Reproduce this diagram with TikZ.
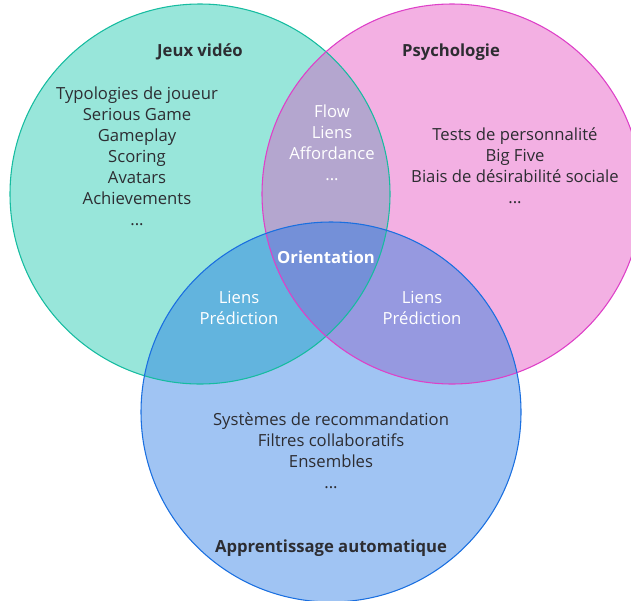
\documentclass[tikz,border=0pt]{standalone}
\usepackage{fontspec}
\setmainfont{Open Sans}
\usepackage{xcolor}
\usepackage{tikz}
\definecolor{jeuxfill}{RGB}{152, 230, 218}
\definecolor{jeuxline}{RGB}{22, 188, 160}
\definecolor{psyfill}{RGB}{243, 176, 227}
\definecolor{psyline}{RGB}{222, 64, 200}
\definecolor{mlfill}{RGB}{160, 196, 243}
\definecolor{mlline}{RGB}{26, 111, 224}
\definecolor{jeuxpsy}{RGB}{180, 166, 207}
\definecolor{jeuxml}{RGB}{98, 180, 222}
\definecolor{psyml}{RGB}{150, 153, 224}
\definecolor{centre}{RGB}{116, 144, 216}
\definecolor{texte}{RGB}{45, 45, 50}

\begin{document}
\begin{tikzpicture}[x=0.75pt, y=-0.75pt,
        titre/.style={font=\fontsize{12.5}{15.75}\selectfont\bfseries, text=texte},
        liste/.style={font=\fontsize{12.5}{15.75}\selectfont, text=texte, align=center},
        inter/.style={font=\fontsize{12.5}{15.75}\selectfont, text=white, align=center}]
    \useasboundingbox (0,0) rectangle (631,600);

    % centres des cercles
    \coordinate (cjeux) at (200,194);
    \coordinate (cpsy) at (452,194);
    \coordinate (cml) at (331,412);
    \def\rayon{142.5pt}

    % remplissages
    \fill[jeuxfill] (cjeux) circle[radius=\rayon];
    \fill[psyfill] (cpsy) circle[radius=\rayon];
    \fill[mlfill] (cml) circle[radius=\rayon];
    \begin{scope}
        \clip (cjeux) circle[radius=\rayon];
        \fill[jeuxpsy] (cpsy) circle[radius=\rayon];
        \fill[jeuxml] (cml) circle[radius=\rayon];
    \end{scope}
    \begin{scope}
        \clip (cpsy) circle[radius=\rayon];
        \fill[psyml] (cml) circle[radius=\rayon];
    \end{scope}
    \begin{scope}
        \clip (cjeux) circle[radius=\rayon];
        \clip (cpsy) circle[radius=\rayon];
        \fill[centre] (cml) circle[radius=\rayon];
    \end{scope}

    % contours
    \draw[jeuxline, line width=0.8pt] (cjeux) circle[radius=\rayon];
    \draw[psyline, line width=0.8pt] (cpsy) circle[radius=\rayon];
    \draw[mlline, line width=0.8pt] (cml) circle[radius=\rayon];

    % textes
    \node[titre] (tjeux) at (200,52) {Jeux vidéo};
    \node[titre] (tpsy) at (451,52) {Psychologie};
    \node[titre] (tml) at (331,548) {Apprentissage automatique};

    \node[liste] (ljeux) at (137,156) {Typologies de joueur\\ Serious Game\\ Gameplay\\ Scoring\\ Avatars\\ Achievements\\ ...};
    \node[liste] (lpsy) at (515,166) {Tests de personnalité\\ Big Five\\ Biais de désirabilité sociale\\ ...};
    \node[liste] (lml) at (331,451) {Systèmes de recommandation\\ Filtres collaboratifs\\ Ensembles\\ ...};

    \node[inter] (ijp) at (332,143) {Flow\\ Liens\\ Affordance\\ ...};
    \node[inter] (ijm) at (239,308) {Liens\\ Prédiction};
    \node[inter] (ipm) at (422,308) {Liens\\ Prédiction};
    \node[inter, font=\fontsize{12.5}{15.75}\selectfont\bfseries] (orient) at (326,257) {Orientation};
\end{tikzpicture}
\end{document}
